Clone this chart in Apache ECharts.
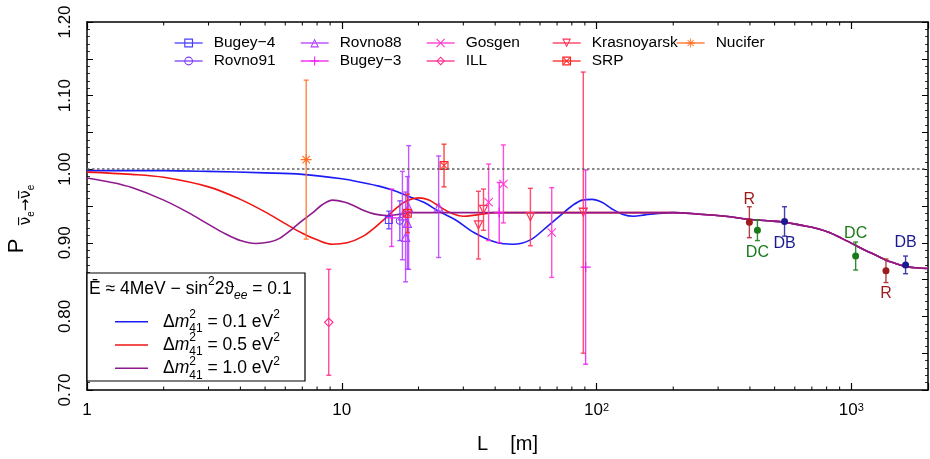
<!DOCTYPE html>
<html><head><meta charset="utf-8">
<script src="https://cdn.jsdelivr.net/npm/echarts@6.0.0/dist/echarts.min.js"></script>
<style>html,body{margin:0;padding:0;background:#fff}#c{width:930px;height:459px}</style>
</head><body><div id="c"></div>
<script>
const FONT = '"Liberation Sans", Arial, Helvetica, sans-serif';

// ---------------- data ----------------
// experiments: [L (m), ratio P, error]
const bugey4      = [[15.3, 0.931, 0.012]];
const rovno91     = [[16.9, 0.930, 0.027]];
const rovno88     = [[17.3, 0.937, 0.060], [17.8, 0.908, 0.061], [18.1, 0.927, 0.063], [18.3, 0.948, 0.084], [24.0, 0.949, 0.069]];
const bugey3      = [[15.7, 0.934, 0.039], [41.5, 0.941, 0.041], [90.6, 0.867, 0.132]];
const gosgen      = [[37.7, 0.955, 0.052], [43.1, 0.980, 0.053], [66.7, 0.914, 0.061]];
const ill         = [[8.89, 0.792, 0.072]];
const krasnoyarsk = [[34.4, 0.924, 0.046], [36.0, 0.945, 0.028], [55.0, 0.935, 0.039], [88.7, 0.941, 0.191]];
const srp         = [[18.1, 0.940, 0.026], [25.2, 1.005, 0.029]];
const nucifer     = [[7.25, 1.013, 0.108]];
// far detectors
const reno        = [[398, 0.928, 0.021], [1368, 0.862, 0.016]];
const doubleChooz = [[428, 0.917, 0.014], [1040, 0.882, 0.019]];
const dayaBay     = [[547, 0.929, 0.020], [1633, 0.870, 0.012]];

// curves [L, P]
const curveDm01 = [[1,0.998],[2,0.998],[3,0.997],[5,0.995],[7,0.993],[10,0.987],[12,0.982],[14,0.977],[16,0.971],[18,0.964],[21,0.955],[24,0.943],[28,0.931],[33,0.914],[40,0.901],[47,0.898],[55,0.904],[63,0.920],[72,0.937],[80,0.950],[88,0.958],[96,0.959],[105,0.955],[115,0.946],[128,0.938],[140,0.936],[155,0.938],[175,0.940],[200,0.941]];
const curveDm05 = [[1,0.996],[1.5,0.993],[2,0.989],[3,0.976],[4,0.959],[5,0.942],[6,0.926],[7,0.913],[8,0.904],[9.2,0.898],[10.5,0.900],[12,0.908],[13.4,0.920],[15,0.935],[16.5,0.948],[18,0.957],[20,0.961],[22,0.958],[24,0.950],[27,0.940],[30,0.936],[34,0.938],[40,0.941],[60,0.941],[100,0.941],[150,0.941],[200,0.941]];
const curveDm10 = [[1,0.988],[1.25,0.982],[1.5,0.975],[2,0.958],[2.5,0.941],[3,0.925],[3.5,0.912],[4,0.903],[4.6,0.899],[5.2,0.901],[5.7,0.906],[6.4,0.919],[7,0.930],[7.7,0.941],[8.4,0.952],[9.2,0.958],[10.3,0.955],[11.2,0.950],[12.2,0.944],[13.5,0.939],[15,0.937],[17,0.939],[19,0.941],[30,0.941],[60,0.941],[100,0.941],[150,0.941],[200,0.941]];
const farTail   = [[250,0.939],[320,0.936],[395,0.932],[470,0.930],[547,0.928],[630,0.924],[721,0.920],[820,0.914],[917,0.906],[1020,0.898],[1132,0.890],[1250,0.883],[1356,0.877],[1490,0.872],[1625,0.868],[1800,0.866],[2000,0.865]];

const expNames  = ['Bugey−4', 'Rovno91', 'Rovno88', 'Bugey−3', 'Gosgen', 'ILL', 'Krasnoyarsk', 'SRP', 'Nucifer'];
const curveNames = ['Δm²41 = 0.1 eV²', 'Δm²41 = 0.5 eV²', 'Δm²41 = 1.0 eV²'];
const xTickLabels = ['1', '10', '10{sup|2}', '10{sup|3}'];
const yTickLabels = ['0.70', '0.80', '0.90', '1.00', '1.10', '1.20'];
const xMinorTicks = [2,3,4,5,6,7,8,9,20,30,40,50,60,70,80,90,200,300,400,500,600,700,800,900];

// ---------------- styles ----------------
const Y_MIN = 0.70, Y_MAX = 1.20;
const SYM = {
  square:  'path://M0,0H10V10H0Z M1.3,1.3V8.7H8.7V1.3Z',
  circle:  'path://M5,0A5,5 0 1,1 5,10A5,5 0 1,1 5,0Z M5,1.3A3.7,3.7 0 1,0 5,8.7A3.7,3.7 0 1,0 5,1.3Z',
  triUp:   'path://M5,0L10,9.5L0,9.5Z M5,2.4L1.9,8.3L8.1,8.3Z',
  plus:    'path://M0,4.4H10V5.6H0Z M4.4,0H5.6V10H4.4Z',
  cross:   'path://M0,0.8L0.8,0L10,9.2L9.2,10Z M9.2,0L10,0.8L0.8,10L0,9.2Z',
  diamond: 'path://M5,0L10,5L5,10L0,5Z M5,1.6L1.6,5L5,8.4L8.4,5Z',
  triDown: 'path://M0,0H10L5,9.5Z M1.9,1.2L5,7.1L8.1,1.2Z',
  boxX:    'path://M0,0H10V10H0Z M1.3,1.3V8.7H8.7V1.3Z M1.3,2.1L2.1,1.3L8.7,7.9L7.9,8.7Z M7.9,1.3L8.7,2.1L2.1,8.7L1.3,7.9Z',
  star:    'path://M0,4.5H10V5.5H0Z M4.5,0H5.5V10H4.5Z M1.2,1.9L1.9,1.2L8.8,8.1L8.1,8.8Z M8.1,1.2L8.8,1.9L1.9,8.8L1.2,8.1Z'
};
const expData   = [bugey4, rovno91, rovno88, bugey3, gosgen, ill, krasnoyarsk, srp, nucifer];
const expColors = ['#4a3dff', '#7b3dff', '#b43cff', '#ee1cf0', '#ff33cc', '#ff2a8c', '#ff2f55', '#ff2424', '#ff6e24'];
const expSymbols = [SYM.square, SYM.circle, SYM.triUp, SYM.plus, SYM.cross, SYM.diamond, SYM.triDown, SYM.boxX, SYM.star];
const expSizes  = [8, 8, 10, 10, 9, 10, 10, 9, 11];
const curveColors = ['#1c1cf5', '#f01414', '#8e1a8e'];

function errorBarRenderer(color, opacity) {
  return function (params, api) {
    const L = api.value(0), P = api.value(1), e = api.value(2);
    const hi = api.coord([L, P + e]);
    const lo = api.coord([L, P - e]);
    const x = hi[0], c = 2.5;
    const st = { stroke: color, lineWidth: 1.4, opacity: opacity };
    return { type: 'group', children: [
      { type: 'line', shape: { x1: x, y1: hi[1], x2: x, y2: lo[1] }, style: st },
      { type: 'line', shape: { x1: x - c, y1: hi[1], x2: x + c, y2: hi[1] }, style: st },
      { type: 'line', shape: { x1: x - c, y1: lo[1], x2: x + c, y2: lo[1] }, style: st }
    ]};
  };
}
function minorTickRenderer(params, api) {
  const v = api.value(0);
  const b = api.coord([v, Y_MIN]);
  const t = api.coord([v, Y_MAX]);
  const st = { stroke: '#000', lineWidth: 1 };
  return { type: 'group', children: [
    { type: 'line', shape: { x1: b[0], y1: b[1], x2: b[0], y2: b[1] - 3.5 }, style: st },
    { type: 'line', shape: { x1: t[0], y1: t[1], x2: t[0], y2: t[1] + 3.5 }, style: st }
  ]};
}

const series = [];
// curves
[curveDm01, curveDm05, curveDm10].forEach((c, i) => {
  const s = {
    name: curveNames[i], type: 'line', data: c.concat(farTail), smooth: 0.35,
    symbol: 'none', lineStyle: { color: curveColors[i], width: 1.6 }, itemStyle: { color: curveColors[i] },
    z: 2 + i * 0.1, silent: true
  };
  if (i === 0) {
    s.markLine = { silent: true, symbol: ['none', 'none'], label: { show: false },
      lineStyle: { color: '#606060', type: [2.5, 2.5], width: 1.6 }, data: [{ yAxis: 1 }] };
  }
  series.push(s);
});
// error bars and markers of the short-baseline experiments
expData.forEach((d, i) => {
  series.push({ name: expNames[i] + ' err', type: 'custom', data: d, encode: { x: 0, y: 1 },
    renderItem: errorBarRenderer(expColors[i], 0.85), z: 3, silent: true });
});
expData.forEach((d, i) => {
  series.push({ name: expNames[i], type: 'line', data: d.map(p => [p[0], p[1]]),
    symbol: expSymbols[i], symbolSize: expSizes[i], showSymbol: true,
    lineStyle: { width: 1.3, opacity: 0 }, itemStyle: { color: expColors[i] }, z: 4, silent: true });
});
// far detectors
const farSets = [
  { d: reno, txt: 'R', color: '#9c1c1c', bar: '#a83030', side: ['top', 'bottom'] },
  { d: doubleChooz, txt: 'DC', color: '#1a7a1a', bar: '#1f801f', side: ['bottom', 'top'] },
  { d: dayaBay, txt: 'DB', color: '#1a1a90', bar: '#2c2ca0', side: ['bottom', 'top'] }
];
farSets.forEach(f => {
  series.push({ name: f.txt + ' err', type: 'custom', data: f.d, encode: { x: 0, y: 1 },
    renderItem: errorBarRenderer(f.bar, 0.9), z: 3, silent: true });
  series.push({ name: f.txt, type: 'scatter', symbol: 'circle', symbolSize: 7,
    data: f.d.map((p, k) => ({ value: [p[0], p[1]], label: { position: f.side[k] } })),
    itemStyle: { color: f.color, opacity: 1 }, z: 5, silent: true,
    label: { show: true, formatter: f.txt, color: f.color, opacity: 1, textBorderWidth: 0, fontSize: 16, fontFamily: FONT, distance: 11 } });
});
// minor log ticks (bottom and top)
series.push({ type: 'custom', data: xMinorTicks.map(v => [v, Y_MIN]), encode: { x: 0, y: 1 },
  renderItem: minorTickRenderer, z: 6, silent: true, clip: false });

// ---------------- axes ----------------
const xAxisBase = {
  type: 'log', logBase: 10, min: 1, max: 2000,
  axisLine: { show: true, onZero: false, lineStyle: { color: '#000', width: 1.5 } },
  splitLine: { show: false },
  axisTick: { show: true, inside: true, length: 7, lineStyle: { color: '#000', width: 1.2 } },
  minorTick: { show: false }
};
const yAxisBase = {
  type: 'value', min: Y_MIN, max: Y_MAX, interval: 0.05,
  axisLine: { show: true, onZero: false, lineStyle: { color: '#000', width: 1.5 } },
  splitLine: { show: false },
  axisTick: { show: true, inside: true, length: 6, lineStyle: { color: '#000', width: 1 } },
  minorTick: { show: true, splitNumber: 5, length: 3, lineStyle: { color: '#000', width: 0.8 } }
};
function xLabel(v) {
  const e = Math.log10(v);
  const r = Math.round(e);
  if (Math.abs(e - r) > 1e-6 || r < 0 || r >= xTickLabels.length) return '';
  return xTickLabels[r];
}
function yLabel(v) {
  const s = v.toFixed(2);
  return yTickLabels.indexOf(s) >= 0 ? s : '';
}

// ---------------- legends ----------------
const legendCols = [188, 314, 440, 566, 690];
const legendRows = [35, 53];
const legends = expNames.map((n, i) => ({
  data: [n], left: legendCols[Math.floor(i / 2)] - 14, top: legendRows[i % 2],
  itemWidth: 28, itemHeight: 11, selectedMode: false, padding: 0,
  formatter: '{t|{name}}',
  textStyle: { color: '#000', fontFamily: FONT, fontSize: 15.5,
    rich: { t: { padding: [0, 0, 0, 6], fontSize: 15.5, fontFamily: FONT, color: '#000' } } },
  lineStyle: { opacity: 1, width: 1.3 }
}));

// ---------------- graphic key box and y title ----------------
const keyRich = {
  a: { fontSize: 17.5, lineHeight: 26, fontFamily: FONT, color: '#000', verticalAlign: 'middle' },
  i: { fontSize: 17.5, lineHeight: 26, fontFamily: FONT, fontStyle: 'italic', color: '#000', verticalAlign: 'middle' },
  p0: { fontSize: 12, lineHeight: 12, fontFamily: FONT, color: '#000', verticalAlign: 'top', width: 0 },
  p: { fontSize: 12, lineHeight: 12, fontFamily: FONT, color: '#000', verticalAlign: 'top' },
  s: { fontSize: 12, lineHeight: 12, fontFamily: FONT, color: '#000', verticalAlign: 'bottom' },
  si: { fontSize: 12, lineHeight: 12, fontFamily: FONT, fontStyle: 'italic', color: '#000', verticalAlign: 'bottom' }
};
const keyValues = ['0.1', '0.5', '1.0'];
const keyY = [321.7, 345, 368.3];
const graphics = [
  { type: 'rect', shape: { x: 87, y: 273, width: 218, height: 108 }, style: { fill: '#fff', stroke: '#000', lineWidth: 1.2 }, z: 10 },
  { type: 'text', x: 89, y: 289, z: 11, style: { text: '{a|Ē ≈ 4MeV − sin}{p|2}{a|2ϑ}{si|ee}{a| = 0.1}', rich: keyRich,
      align: 'left', verticalAlign: 'middle', textAlign: 'left', textVerticalAlign: 'middle' } },
  { type: 'text', x: 17, y: 246, rotation: Math.PI / 2, z: 11,
    style: { text: 'P', fontSize: 22, fontFamily: FONT, fill: '#000', align: 'center', verticalAlign: 'middle', textAlign: 'center', textVerticalAlign: 'middle' } },
  { type: 'text', x: 26, y: 205, rotation: Math.PI / 2, z: 11,
    style: { text: '{n|ν̅}{e|e}{n|→ν̅}{e|e}', align: 'center', verticalAlign: 'middle', textAlign: 'center', textVerticalAlign: 'middle',
      rich: { n: { fontSize: 15, lineHeight: 20, fontFamily: '"DejaVu Sans", sans-serif', color: '#000', verticalAlign: 'middle' },
              e: { fontSize: 10, lineHeight: 10, fontFamily: FONT, color: '#000', verticalAlign: 'bottom' } } } }
];
keyValues.forEach((v, k) => {
  graphics.push({ type: 'line', z: 11, shape: { x1: 115, y1: keyY[k], x2: 148, y2: keyY[k] }, style: { stroke: curveColors[k], lineWidth: 1.6 } });
  graphics.push({ type: 'text', x: 163, y: keyY[k], z: 11, style: {
    text: '{a|Δ}{i|m}{p0|2}{s|41}{a| = ' + v + ' eV}{p|2}', rich: keyRich,
    align: 'left', verticalAlign: 'middle', textAlign: 'left', textVerticalAlign: 'middle' } });
});

// ---------------- chart ----------------
const chart = echarts.init(document.getElementById('c'), null, { renderer: 'canvas', width: 930, height: 459 });
chart.setOption({
  animation: false,
  backgroundColor: '#fff',
  grid: { left: 87, right: 2, top: 22, bottom: 69, containLabel: false, outerBoundsMode: 'none' },
  legend: legends,
  xAxis: [
    Object.assign({}, xAxisBase, { position: 'bottom',
      axisLabel: { margin: 12, fontSize: 17, fontFamily: FONT, color: '#000', formatter: xLabel,
        rich: { sup: { fontSize: 11, lineHeight: 11, verticalAlign: 'top', fontFamily: FONT, color: '#000' } } },
      name: 'L    [m]', nameLocation: 'middle', nameGap: 44,
      nameTextStyle: { fontSize: 20, fontFamily: FONT, color: '#000' } }),
    Object.assign({}, xAxisBase, { position: 'top', axisLabel: { show: false } })
  ],
  yAxis: [
    Object.assign({}, yAxisBase, { position: 'left',
      axisLabel: { rotate: 90, margin: 13, fontSize: 17, fontFamily: FONT, color: '#000', formatter: yLabel } }),
    Object.assign({}, yAxisBase, { position: 'right', axisLabel: { show: false } })
  ],
  series: series,
  graphic: { elements: graphics }
});
</script>
</body></html>
